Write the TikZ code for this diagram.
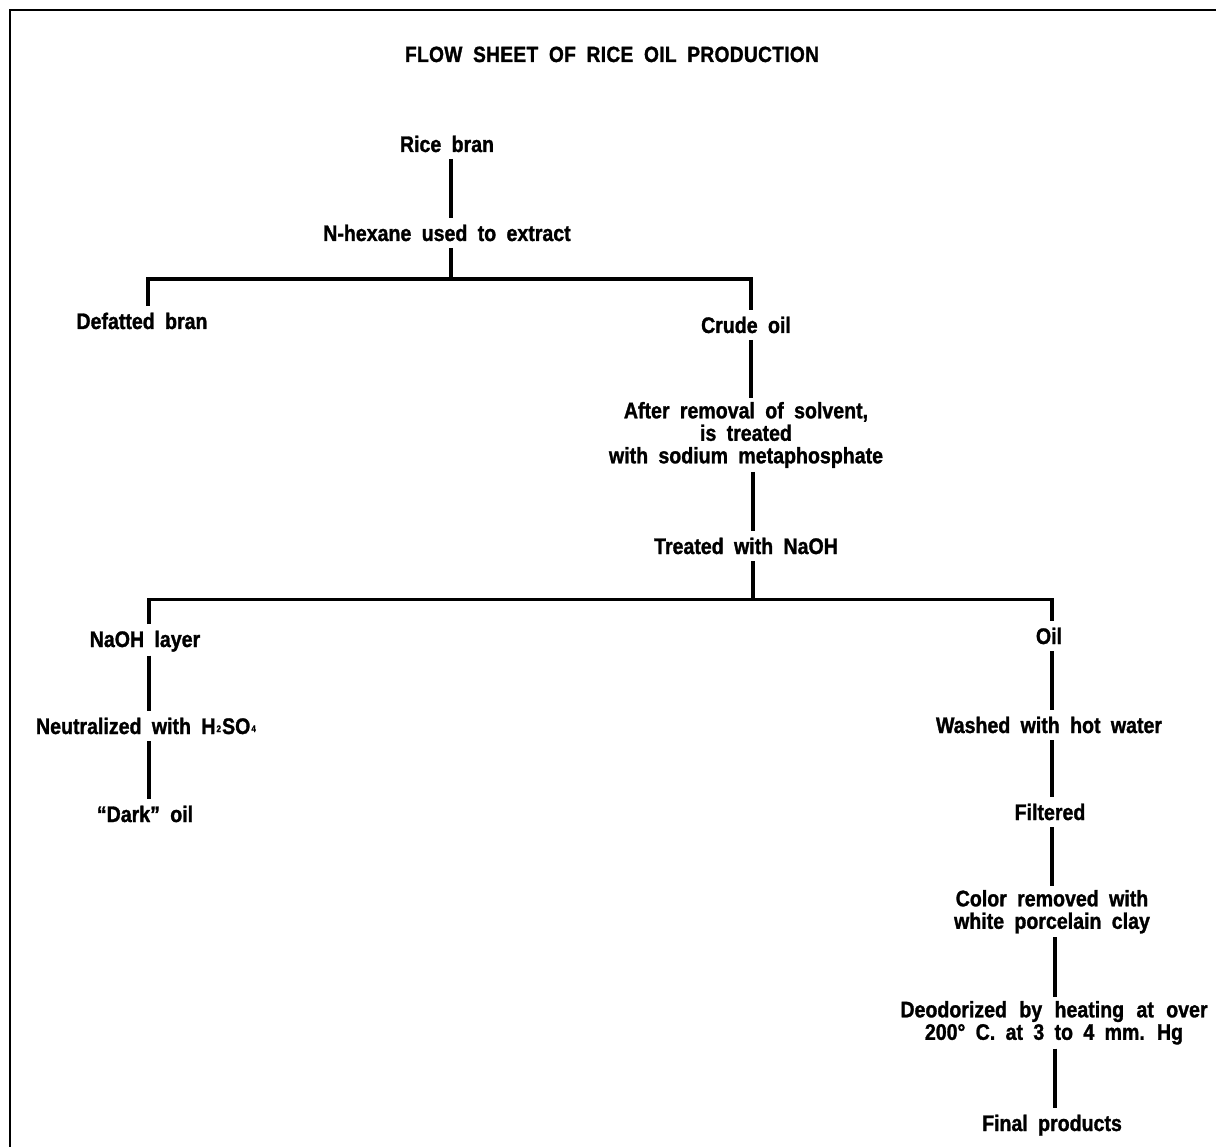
\documentclass[tikz,border=0pt]{standalone}
\usepackage{fontspec}
\setmainfont{Liberation Sans}[FakeStretch=0.87,WordSpace=1.9,BoldFeatures={FakeBold=1.3}]
\begin{document}
\begin{tikzpicture}[x=1pt,y=-1pt,
  lab/.style={font=\bfseries\fontsize{22.5}{22.5}\selectfont, align=center, anchor=north,
    inner xsep=2pt, inner ysep=4pt, outer sep=0pt,
    execute at begin node={\rule{0pt}{19pt}},
    execute at end node={\rule[-3pt]{0pt}{3pt}}},
  conn/.style={line width=3.6pt, line join=miter, line cap=butt},
  frame/.style={line width=2pt}]
\useasboundingbox (0,0) rectangle (1216,1147);
\fill[white] (0,0) rectangle (1216,1147);
\draw[frame] (9.5,1147) -- (9.5,10) -- (1216,10);

\node[font=\bfseries\fontsize{22}{22}\selectfont, anchor=base, inner sep=0pt] (title) at (612,62)
  {\addfontfeature{LetterSpace=1.5}FLOW SHEET OF RICE OIL PRODUCTION};

\node[lab] (rice)   at (447,129) {Rice bran};
\node[lab] (nhex)   at (447,218) {N-hexane used to extract};
\node[lab] (defat)  at (142,306) {Defatted bran};
\node[lab] (crude)  at (746,310) {Crude oil};
\node[lab] (after)  at (746,398) {After removal of solvent,\\is treated\\with sodium metaphosphate};
\node[lab] (naoht)  at (746,531) {Treated with NaOH};
\node[lab] (layer)  at (145,624) {NaOH layer};
\node[lab] (neut)   at (146,711) {Neutralized with H\kern1pt\raisebox{2pt}{\fontsize{9.5}{9.5}\selectfont 2}\kern1pt SO\kern1pt\raisebox{2pt}{\fontsize{9.5}{9.5}\selectfont 4}};
\node[lab] (dark)   at (145,799) {“Dark” oil};
\node[lab] (oil)    at (1049,621) {Oil};
\node[lab] (washed) at (1049,710) {Washed with hot water};
\node[lab] (filt)   at (1050,797) {Filtered};
\node[lab] (color)  at (1052,886) {Color removed with\\white porcelain clay};
\node[lab] (deod)   at (1054,997) {Deodorized\hspace{2pt} by\hspace{2pt} heating\hspace{2pt} at\hspace{2pt} over\\200° C. at 3 to 4 mm. Hg};
\node[lab] (final)  at (1052,1108) {Final products};

\coordinate (s1)  at (451,279);
\coordinate (b1L) at (148,279);
\coordinate (b1R) at (751,279);
\coordinate (s2)  at (753,599.5);
\coordinate (b2L) at (149,599.5);
\coordinate (b2R) at (1052,599.5);
\coordinate (r3)  at (1055,940);

\draw[conn] (rice.south -| s1) -- (nhex.north -| s1);
\draw[conn] (nhex.south -| s1) -- (s1);
\draw[conn] (defat.north -| b1L) -- (b1L) -- (b1R) -- (crude.north -| b1R);
\draw[conn] (crude.south -| b1R) -- (after.north -| b1R);
\draw[conn] (after.south -| s2) -- (naoht.north -| s2);
\draw[conn] (naoht.south -| s2) -- (s2);
\draw[conn] (layer.north -| b2L) -- (b2L) -- (b2R) -- (oil.north -| b2R);
\draw[conn] (layer.south -| b2L) -- (neut.north -| b2L);
\draw[conn] (neut.south -| b2L) -- (dark.north -| b2L);
\draw[conn] (oil.south -| b2R) -- (washed.north -| b2R);
\draw[conn] (washed.south -| b2R) -- (filt.north -| b2R);
\draw[conn] (filt.south -| b2R) -- (color.north -| b2R);
\draw[conn] (color.south -| r3) -- (deod.north -| r3);
\draw[conn] (deod.south -| r3) -- (final.north -| r3);
\end{tikzpicture}
\end{document}
